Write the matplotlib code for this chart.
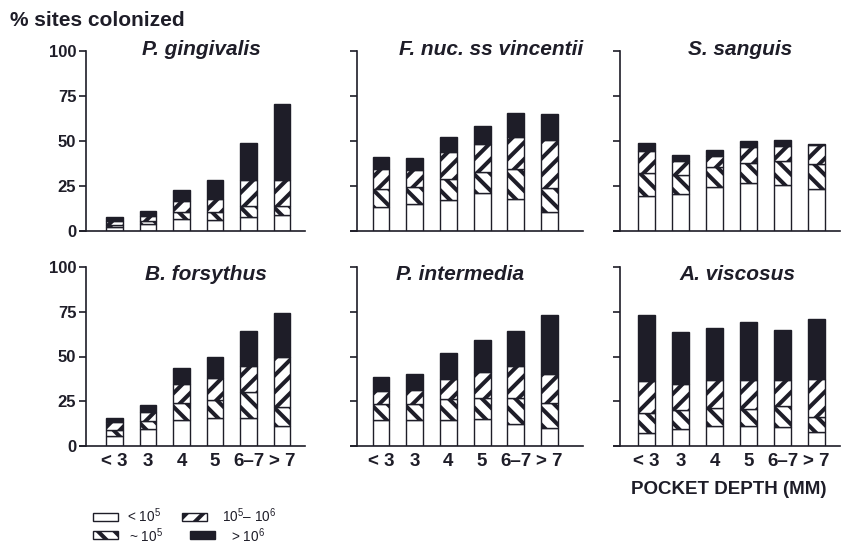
import matplotlib.pyplot as plt
from matplotlib.patches import Rectangle

plt.rcParams['font.family'] = ['Liberation Sans', 'DejaVu Sans']
plt.rcParams['mathtext.fontset'] = 'custom'
plt.rcParams['mathtext.rm'] = 'Liberation Sans'
plt.rcParams['mathtext.bf'] = 'Liberation Sans:bold'
plt.rcParams['hatch.linewidth'] = 2.9

INK = '#1e1d28'

depths = ['< 3', '3', '4', '5', '6–7', '> 7']

species = ['P. gingivalis', 'F. nuc. ss vincentii', 'S. sanguis',
           'B. forsythus', 'P. intermedia', 'A. viscosus']

# segment heights (% sites) per pocket depth: < 10^5, ~10^5, 10^5-10^6, > 10^6
p_ging_low = [2.0, 4.0, 6.7, 6.3, 8.0, 9.0]
p_ging_approx = [1.5, 1.8, 3.9, 4.3, 6.0, 5.0]
p_ging_mid = [2.0, 2.6, 6.2, 7.1, 14.5, 14.5]
p_ging_high = [2.0, 2.8, 5.8, 10.7, 20.5, 41.8]

f_nuc_low = [13.5, 15.0, 17.2, 21.1, 17.8, 10.8]
f_nuc_approx = [9.9, 9.3, 11.8, 11.6, 16.8, 13.1]
f_nuc_mid = [11.2, 9.7, 14.9, 15.5, 17.7, 26.9]
f_nuc_high = [6.5, 6.6, 8.4, 10.1, 13.5, 14.1]

s_sang_low = [19.5, 20.4, 24.3, 26.6, 25.6, 23.4]
s_sang_approx = [12.7, 10.8, 11.2, 11.1, 13.4, 14.0]
s_sang_mid = [12.0, 7.8, 5.9, 8.9, 8.4, 10.2]
s_sang_high = [4.7, 3.4, 3.8, 3.2, 3.3, 0.7]

b_fors_low = [5.8, 9.5, 14.5, 15.8, 15.8, 11.3]
b_fors_approx = [3.1, 4.6, 9.3, 9.9, 14.5, 10.6]
b_fors_mid = [4.7, 5.0, 11.1, 12.4, 14.3, 27.9]
b_fors_high = [2.2, 3.6, 8.4, 11.7, 19.7, 24.5]

p_int_low = [14.3, 14.5, 14.3, 14.9, 12.5, 10.2]
p_int_approx = [8.9, 9.1, 11.7, 12.1, 14.5, 13.6]
p_int_mid = [7.5, 7.6, 11.5, 14.4, 17.6, 16.7]
p_int_high = [8.0, 8.8, 14.2, 17.7, 19.5, 32.5]

a_visc_low = [7.1, 9.5, 11.2, 11.2, 10.5, 8.0]
a_visc_approx = [11.6, 10.7, 9.9, 9.4, 11.9, 8.4]
a_visc_mid = [17.4, 14.4, 15.9, 16.4, 14.6, 21.0]
a_visc_high = [37.0, 29.1, 29.0, 32.2, 28.0, 33.6]

panels = [
    (p_ging_low, p_ging_approx, p_ging_mid, p_ging_high),
    (f_nuc_low, f_nuc_approx, f_nuc_mid, f_nuc_high),
    (s_sang_low, s_sang_approx, s_sang_mid, s_sang_high),
    (b_fors_low, b_fors_approx, b_fors_mid, b_fors_high),
    (p_int_low, p_int_approx, p_int_mid, p_int_high),
    (a_visc_low, a_visc_approx, a_visc_mid, a_visc_high),
]

legend_labels = [r'< 10$^5$', r'~ 10$^5$', r'10$^5$– 10$^6$', r'> 10$^6$']
styles = [('white', ''), ('white', '\\\\'), ('white', '//'), (INK, '')]

W, H = 842, 544
fig = plt.figure(figsize=(8.42, 5.44), dpi=100)

# pixel layout: spine x, right end x, first bar centre, bar spacing
cols = [(86, 305, 114.5, 33.5), (357, 583, 381, 33.7), (620, 840, 646.5, 34.0)]
rows = [(231, 51), (446, 267)]
title_x = [2.6, 3.26, 2.75, 2.73, 2.35, 2.66]
title_y = [101, 101, 101, 96, 96, 96]

for k, segs in enumerate(panels):
    r, c = divmod(k, 3)
    xs, xr, c0, sp = cols[c]
    y0, y100 = rows[r]
    ext = 6
    ax = fig.add_axes([(xs - ext) / W, 1 - y0 / H, (xr - xs + ext) / W, (y0 - y100) / H])
    ax.set_xlim((xs - ext - c0) / sp, (xr - c0) / sp)
    ax.set_ylim(0, 100)
    ax.patch.set_alpha(0)

    x = list(range(len(depths)))
    bottom = [0.0] * len(depths)
    for seg, (fc, h) in zip(segs, styles):
        ax.bar(x, seg, bottom=bottom, width=0.5, color=fc, edgecolor=INK,
               hatch=h, linewidth=1.0, zorder=2)
        bottom = [b + s for b, s in zip(bottom, seg)]

    for side in ['top', 'right']:
        ax.spines[side].set_visible(False)
    ax.spines['left'].set_position(('data', (xs - c0) / sp))
    ax.spines['left'].set_bounds(0, 100)
    for side in ['left', 'bottom']:
        ax.spines[side].set_color(INK)
        ax.spines[side].set_linewidth(1.2)

    ax.set_yticks([0, 25, 50, 75, 100])
    ax.tick_params(axis='y', length=5, width=1.2, color=INK, pad=2)
    if c == 0:
        ax.set_yticklabels(['0', '25', '50', '75', '100'],
                           fontsize=12, fontweight='bold', color=INK)
    else:
        ax.set_yticklabels([])

    ax.set_xticks(x)
    ax.tick_params(axis='x', length=0, pad=5)
    if r == 1:
        ax.set_xticklabels(depths, fontsize=13.5, fontweight='bold', color=INK)
    else:
        ax.set_xticklabels([])

    ax.text(title_x[k], title_y[k], species[k], ha='center', va='center',
            fontsize=15, fontweight='bold', fontstyle='italic', color=INK)

fig.text(10 / W, 1 - 20 / H, '% sites colonized', fontsize=15,
         fontweight='bold', color=INK, ha='left', va='center')
fig.text(729 / W, 1 - 490 / H, 'POCKET DEPTH (MM)', fontsize=13.5,
         fontweight='bold', color=INK, ha='center', va='center')

# legend drawn by hand
leg_boxes = [(93, 517), (93, 535), (182, 517), (190, 535)]
leg_text = [(127, 516), (129, 536), (222, 516), (231, 536)]
for i in range(4):
    bx, by = leg_boxes[i]
    fc, h = styles[i]
    fig.patches.append(Rectangle((bx / W, 1 - (by + 4) / H), 25 / W, 8 / H,
                                 transform=fig.transFigure, facecolor=fc,
                                 edgecolor=INK, hatch=h, linewidth=1.0))
    tx, ty = leg_text[i]
    fig.text(tx / W, 1 - ty / H, legend_labels[i], fontsize=9.8,
             color=INK, ha='left', va='center')

fig.savefig('out.png', dpi=100)
